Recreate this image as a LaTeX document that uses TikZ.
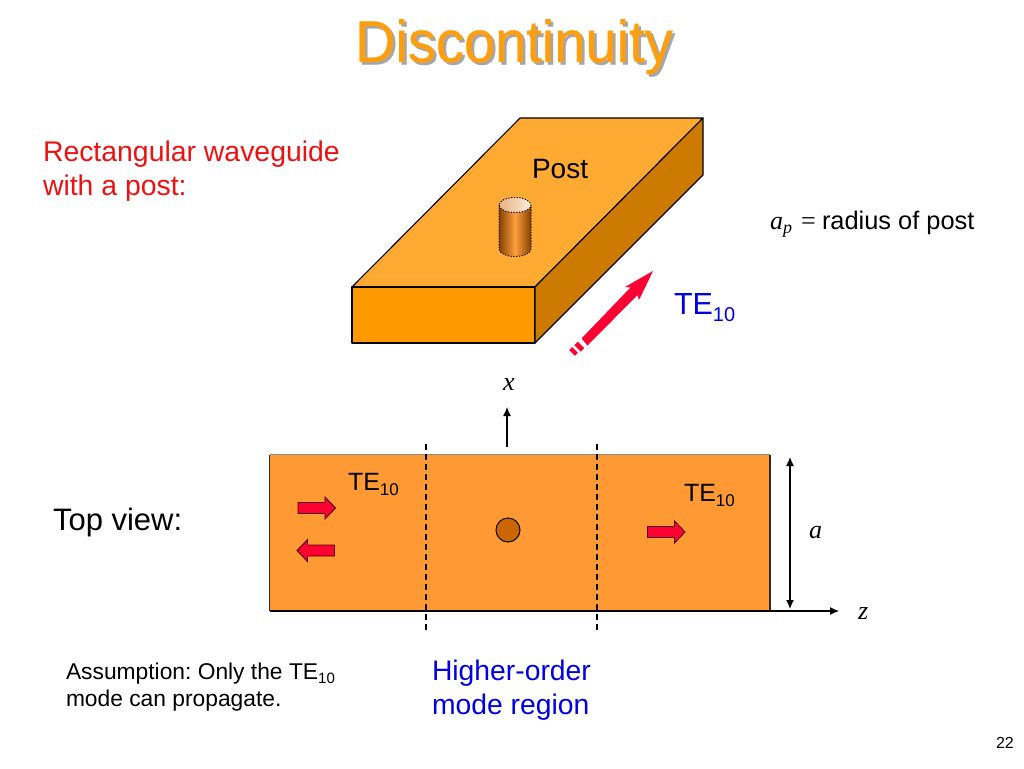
\documentclass[tikz,border=0pt]{standalone}
\usepackage{fontspec}
\setmainfont{Liberation Sans}
\newfontfamily\timesit{Liberation Serif}
\newfontfamily\titlefont[FakeBold=0.45,FakeStretch=0.95]{Liberation Sans}
\usetikzlibrary{arrows.meta,shadings}
\definecolor{topface}{HTML}{FFAA33}
\definecolor{frontface}{HTML}{FF9900}
\definecolor{sideface}{HTML}{CC7A00}
\definecolor{planview}{HTML}{FF9933}
\definecolor{postfill}{HTML}{CC6600}
\definecolor{redarrow}{HTML}{FF0033}
\definecolor{titleorange}{HTML}{FF9F10}
\definecolor{blueink}{HTML}{0000E0}
\definecolor{redink}{HTML}{EE1111}
\newcommand{\szt}[1]{\fontsize{#1}{#1}\selectfont}
\newcommand{\varit}[1]{{\timesit\itshape #1}}
\newcommand{\smallarrow}[3]{\draw[blockarrow,shift={(#1,#2)},xscale=#3] (0,-5.5)--(27,-5.5)--(27,-11)--(37.5,0)--(27,11)--(27,5.5)--(0,5.5)--cycle;}
\frenchspacing
\tikzset{
  lab/.style={anchor=base west,inner sep=0pt,outer sep=0pt,align=left,text depth=0pt},
  face/.style={draw=black,line width=1.1pt,line join=round},
  blockarrow/.style={draw=black!70!red,fill=redarrow,line width=0.9pt,line join=miter},
  thinarrow/.style={-{Latex[length=9pt,width=8pt]},line width=1.1pt,black},
  dimarrow/.style={{Latex[length=9pt,width=8pt]}-{Latex[length=9pt,width=8pt]},line width=1.2pt,black},
  cutline/.style={line width=1.1pt,black,dash pattern=on 6pt off 4pt},
  postdots/.style={black,line width=1pt,line cap=round,dash pattern=on 0.6pt off 2.2pt},
}
\begin{document}
\begin{tikzpicture}[x=1pt,y=-1pt]
\useasboundingbox (0,0) rectangle (1024,768);
% title
\node[lab,text=black!35] at (357.5,64.5) {\szt{59}\titlefont Discontinuity};
\node[lab,text=titleorange] (title) at (355,62) {\szt{59}\titlefont Discontinuity};
% labels
\node[lab,text=redink] (guide) at (43,161.5) {\szt{28.4}Rectangular waveguide};
\node[lab,text=redink] (guideb) at (43,195.5) {\szt{28.4}with a post:};
% 3D waveguide
\fill[topface] (352,287)--(520,118)--(703,118)--(535,287)--cycle;
\draw[face] (352,287)--(520,118)--(703,118)--(535,287)--cycle;
\draw[face,fill=frontface] (352,287) rectangle (535,343);
\draw[face,fill=sideface] (535,287)--(703,118)--(703,175)--(535,343)--cycle;
\node[lab] (post) at (532,178) {\szt{28}Post};
% cylinder
\shade[left color=postfill!65!black,right color=postfill!65!black,middle color=planview!95!white]
  (499,205) -- (499,249) arc[start angle=180,end angle=0,x radius=16,y radius=7.5] -- (531,205) arc[start angle=0,end angle=-180,x radius=16,y radius=7.5] -- cycle;
\shade[left color=postfill!50!white,right color=orange!15!white]
  (515,205) ellipse[x radius=16,y radius=7.5];
\draw[postdots] (499,205)--(499,249) arc[start angle=180,end angle=0,x radius=16,y radius=7.5] -- (531,205);
\draw[postdots] (515,205) ellipse[x radius=16,y radius=7.5];
% radius note
\node[lab] (radius) at (770,229) {\makebox[52pt][l]{\szt{26}\varit{a}\raisebox{-4pt}{\szt{18}\varit{p}}\kern9pt{\timesit =}}\szt{25.4}radius of post};
% big arrow
\fill[redarrow] (653,271)--(639,300)--(637.5,295)--(587.5,345.5)--(581.5,338.5)--(630.5,287.5)--(625,287)--cycle;
\coordinate (dashA) at (572,353);
\coordinate (dashB) at (575,350);
\coordinate (dashC) at (577.5,348.5);
\coordinate (dashD) at (581,345);
\draw[redarrow,line width=8pt] (dashA)--(dashB);
\draw[redarrow,line width=9pt] (dashC)--(dashD);
\node[lab,text=blueink] (tebig) at (674,314) {\szt{30.5}TE\raisebox{-7pt}{\szt{20}10}};
% top view
\fill[planview] (269.5,454.5) rectangle (770,611);
\draw[black!45,line width=1.2pt] (269.5,454.5)--(770,454.5);
\draw[black!70!brown,line width=1.2pt] (269.5,454.5)--(269.5,611);
\draw[black!70!brown,line width=1.2pt] (770,454.5)--(770,611);
\draw[black,line width=1.6pt] (269.5,611)--(770,611);
\coordinate (cutAt) at (426,444);
\coordinate (cutAb) at (426,630);
\coordinate (cutBt) at (597,444);
\coordinate (cutBb) at (597,630);
\draw[cutline] (cutAt)--(cutAb);
\draw[cutline] (cutBt)--(cutBb);
\node[draw=black,line width=1pt,fill=postfill,circle,minimum size=24pt,inner sep=0pt] (postdot) at (508,530) {};
\smallarrow{298}{508}{1}
\smallarrow{334.5}{550.5}{-1}
\smallarrow{647.5}{532}{1}
\node[lab] (teL) at (348,490) {\szt{25}TE\raisebox{-5pt}{\szt{17}10}};
\node[lab] (teR) at (684,501) {\szt{25}TE\raisebox{-5pt}{\szt{17}10}};
\node[lab] (topview) at (53,530) {\szt{31}Top view:};
% axes
\coordinate (xs) at (507,447);
\coordinate (xe) at (507,407);
\draw[thinarrow] (xs)--(xe);
\node[lab] (xl) at (503,390) {\szt{26}\varit{x}};
\coordinate (zs) at (770,611);
\coordinate (ze) at (839,611);
\draw[thinarrow] (zs)--(ze);
\node[lab] (zl) at (858,619) {\szt{26}\varit{z}};
\coordinate (as) at (790,457);
\coordinate (ae) at (790,609);
\draw[dimarrow] (as)--(ae);
\node[lab] (al) at (809,538) {\szt{26}\varit{a}};
% notes
\node[lab] (noteA) at (66,679) {\szt{22.8}Assumption: Only the TE\raisebox{-4pt}{\szt{15}10}};
\node[lab] (noteB) at (66,706) {\szt{22.8}mode can propagate.};
\node[lab,text=blueink] (hoA) at (432,680) {\szt{28.3}Higher-order};
\node[lab,text=blueink] (hoB) at (432,714) {\szt{28.3}mode region};
\node[lab] (pagenum) at (996,748) {\szt{16}22};
\end{tikzpicture}
\end{document}
